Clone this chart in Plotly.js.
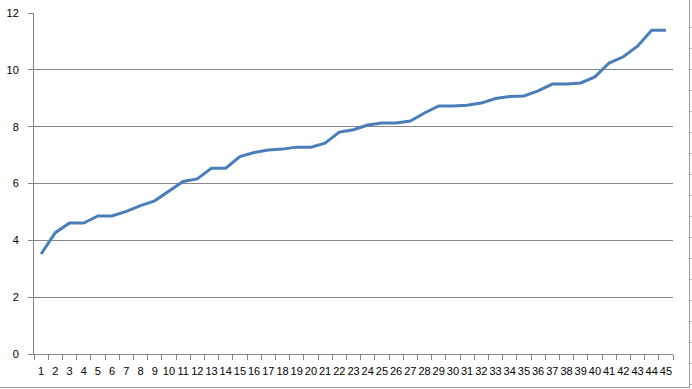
<!DOCTYPE html>
<html>
<head>
<meta charset="utf-8">
<script src="https://cdn.plot.ly/plotly-3.0.1.min.js"></script>
<style>
html,body{margin:0;padding:0;background:#fff;}
#wrap{position:relative;width:692px;height:389px;overflow:hidden;}
#chart{position:absolute;left:0;top:0;width:692px;height:389px;}
#frame{position:absolute;left:0;top:0;width:689px;height:387px;border-right:1px solid #9a9a9a;border-bottom:1px solid #9a9a9a;pointer-events:none;}
#ticks{position:absolute;left:690px;top:7px;width:3px;height:379px;pointer-events:none;
 background:repeating-linear-gradient(to bottom, transparent 0px, transparent 20px, #b0b0b0 20px, #b0b0b0 21px);}
</style>
</head>
<body>
<div id="wrap">
<div id="chart"></div>
<div id="frame"></div>
<div id="ticks"></div>
</div>
<script>
const categories = ["1","2","3","4","5","6","7","8","9","10","11","12","13","14","15","16","17","18","19","20","21","22","23","24","25","26","27","28","29","30","31","32","33","34","35","36","37","38","39","40","41","42","43","44","45"];
const values = [3.52,4.27,4.61,4.61,4.86,4.86,5.02,5.22,5.39,5.72,6.07,6.16,6.54,6.54,6.95,7.09,7.18,7.21,7.28,7.28,7.42,7.81,7.89,8.06,8.13,8.13,8.20,8.48,8.73,8.73,8.75,8.83,8.99,9.06,9.08,9.26,9.50,9.50,9.54,9.75,10.24,10.46,10.83,11.39,11.39];
const yTicks = [0,2,4,6,8,10,12];

const trace = {
  x: categories,
  y: values,
  type: 'scatter',
  mode: 'lines',
  line: {color: '#4a7ebb', width: 3},
  hoverinfo: 'skip'
};

const layout = {
  width: 692, height: 389,
  margin: {l: 34, r: 19, t: 13, b: 35, pad: 0},
  paper_bgcolor: '#ffffff',
  plot_bgcolor: '#ffffff',
  showlegend: false,
  font: {family: 'Liberation Sans, Arial, sans-serif', size: 11, color: '#000000'},
  xaxis: {
    type: 'category',
    range: [-0.5, categories.length - 0.5],
    tickson: 'boundaries',
    ticks: 'outside', ticklen: 5, tickcolor: '#868686', tickwidth: 1,
    showline: true, linecolor: '#868686', linewidth: 1,
    showgrid: false, zeroline: false,
    tickangle: 0,
    ticklabelstandoff: 7,
    tickfont: {size: 11, color: '#000000'}
  },
  yaxis: {
    range: [0, 12],
    tickvals: yTicks,
    ticktext: yTicks.map(String),
    ticks: 'outside', ticklen: 5, tickcolor: '#868686', tickwidth: 1,
    showline: true, linecolor: '#868686', linewidth: 1,
    showgrid: true, gridcolor: '#868686', gridwidth: 1,
    zeroline: false,
    ticklabelstandoff: 7,
    tickfont: {size: 11, color: '#000000'}
  }
};

Plotly.newPlot('chart', [trace], layout, {staticPlot: true, displayModeBar: false});
</script>
</body>
</html>
